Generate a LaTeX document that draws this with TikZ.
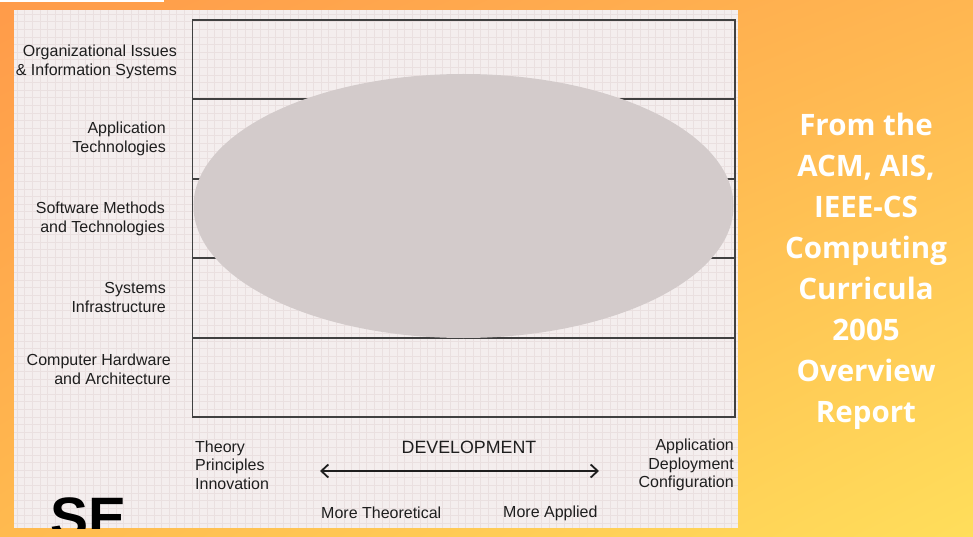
\documentclass[tikz,border=0pt]{standalone}
\usepackage{fontspec}
\setmainfont{Liberation Sans}
\newfontfamily\titlefont{Open Sans}
\usetikzlibrary{arrows.meta,shadings}
\definecolor{bgorange}{HTML}{FF9B4A}
\definecolor{bgamber}{HTML}{FFB651}
\definecolor{bgsand}{HTML}{FFBA4F}
\definecolor{bgyellow}{HTML}{FFDE5B}
\definecolor{panelbg}{HTML}{F4EEEE}
\definecolor{gridpink}{HTML}{EAE0E0}
\definecolor{blobgray}{HTML}{D3CBCB}
\definecolor{inkgray}{HTML}{1E1E1E}
\begin{document}
\begin{tikzpicture}[x=1pt,y=-1pt,
    bandlabel/.style={anchor=east, align=right, inner sep=0pt, text=inkgray,
      font=\fontsize{16}{19}\selectfont},
    axislabel/.style={inner sep=0pt, text=inkgray,
      font=\fontsize{16}{18.5}\selectfont},
    gridline/.style={gridpink, line width=0.4pt},
    bandline/.style={draw=black!75, line width=1.3pt}]
  \useasboundingbox (0,0) rectangle (973,537);
  % background
  \shade[upper left=bgorange, upper right=bgamber, lower left=bgsand, lower right=bgyellow]
    (0,0) rectangle (973,537);
  \fill[white] (0,0) rectangle (164,2.5);
  \fill[panelbg] (14,10) rectangle (738,528);
  \foreach \gx in {17,24.6,...,738} \draw[gridline] (\gx,10) -- (\gx,528);
  \foreach \gy in {14,21.6,...,528} \draw[gridline] (14,\gy) -- (738,\gy);
  % bands
  \draw[bandline] (192.5,20) rectangle (735,417);
  \draw[bandline] (192.5,99) -- (735,99);
  \draw[bandline] (192.5,179) -- (735,179);
  \draw[bandline] (192.5,258) -- (735,258);
  \draw[bandline] (192.5,338) -- (735,338);
  \fill[blobgray] (463.5,206) ellipse [x radius=270, y radius=132];
  % labels
  \node[bandlabel] (lblOrg) at (177,62) {Organizational Issues\\\& Information Systems};
  \node[bandlabel] (lblApp) at (166,139) {Application\\Technologies};
  \node[bandlabel] (lblSw) at (165,218.5) {Software Methods\\and Technologies};
  \node[bandlabel] (lblSys) at (166,297.5) {Systems\\Infrastructure};
  \node[bandlabel] (lblHw) at (171,369.5) {Computer Hardware\\and Architecture};
  \node[axislabel, anchor=west, align=left] (theory) at (195,465) {Theory\\Principles\\Innovation};
  \node[axislabel, anchor=east, align=right] (applied) at (734,465) {Application\\Deployment\\Configuration};
  \node[axislabel, font=\fontsize{17.8}{20}\selectfont] (devel) at (469,447) {DEVELOPMENT};
  \coordinate (devL) at (320,471);
  \coordinate (devR) at (599,471);
  \draw[{Straight Barb[length=7pt,width=13pt]}-{Straight Barb[length=7pt,width=13pt]}, line width=1.8pt, inkgray] (devL) -- (devR);
  \node[axislabel, anchor=west] (moreTh) at (321,513) {More Theoretical};
  \node[axislabel, anchor=west] (moreAp) at (503,513) {More Applied};
  \begin{scope}
    \clip (14,10) rectangle (738,528);
    \node[anchor=base west, inner sep=0pt, font=\fontsize{57}{57}\selectfont\bfseries] (seMark) at (50,537) {SE};
  \end{scope}
  % title
  \node[align=center, text=white, font=\titlefont\bfseries\fontsize{29.5}{41}\selectfont] (title) at (866,271)
    {From the\\ACM, AIS,\\IEEE-CS\\Computing\\Curricula\\2005\\Overview\\Report};
\end{tikzpicture}
\end{document}
